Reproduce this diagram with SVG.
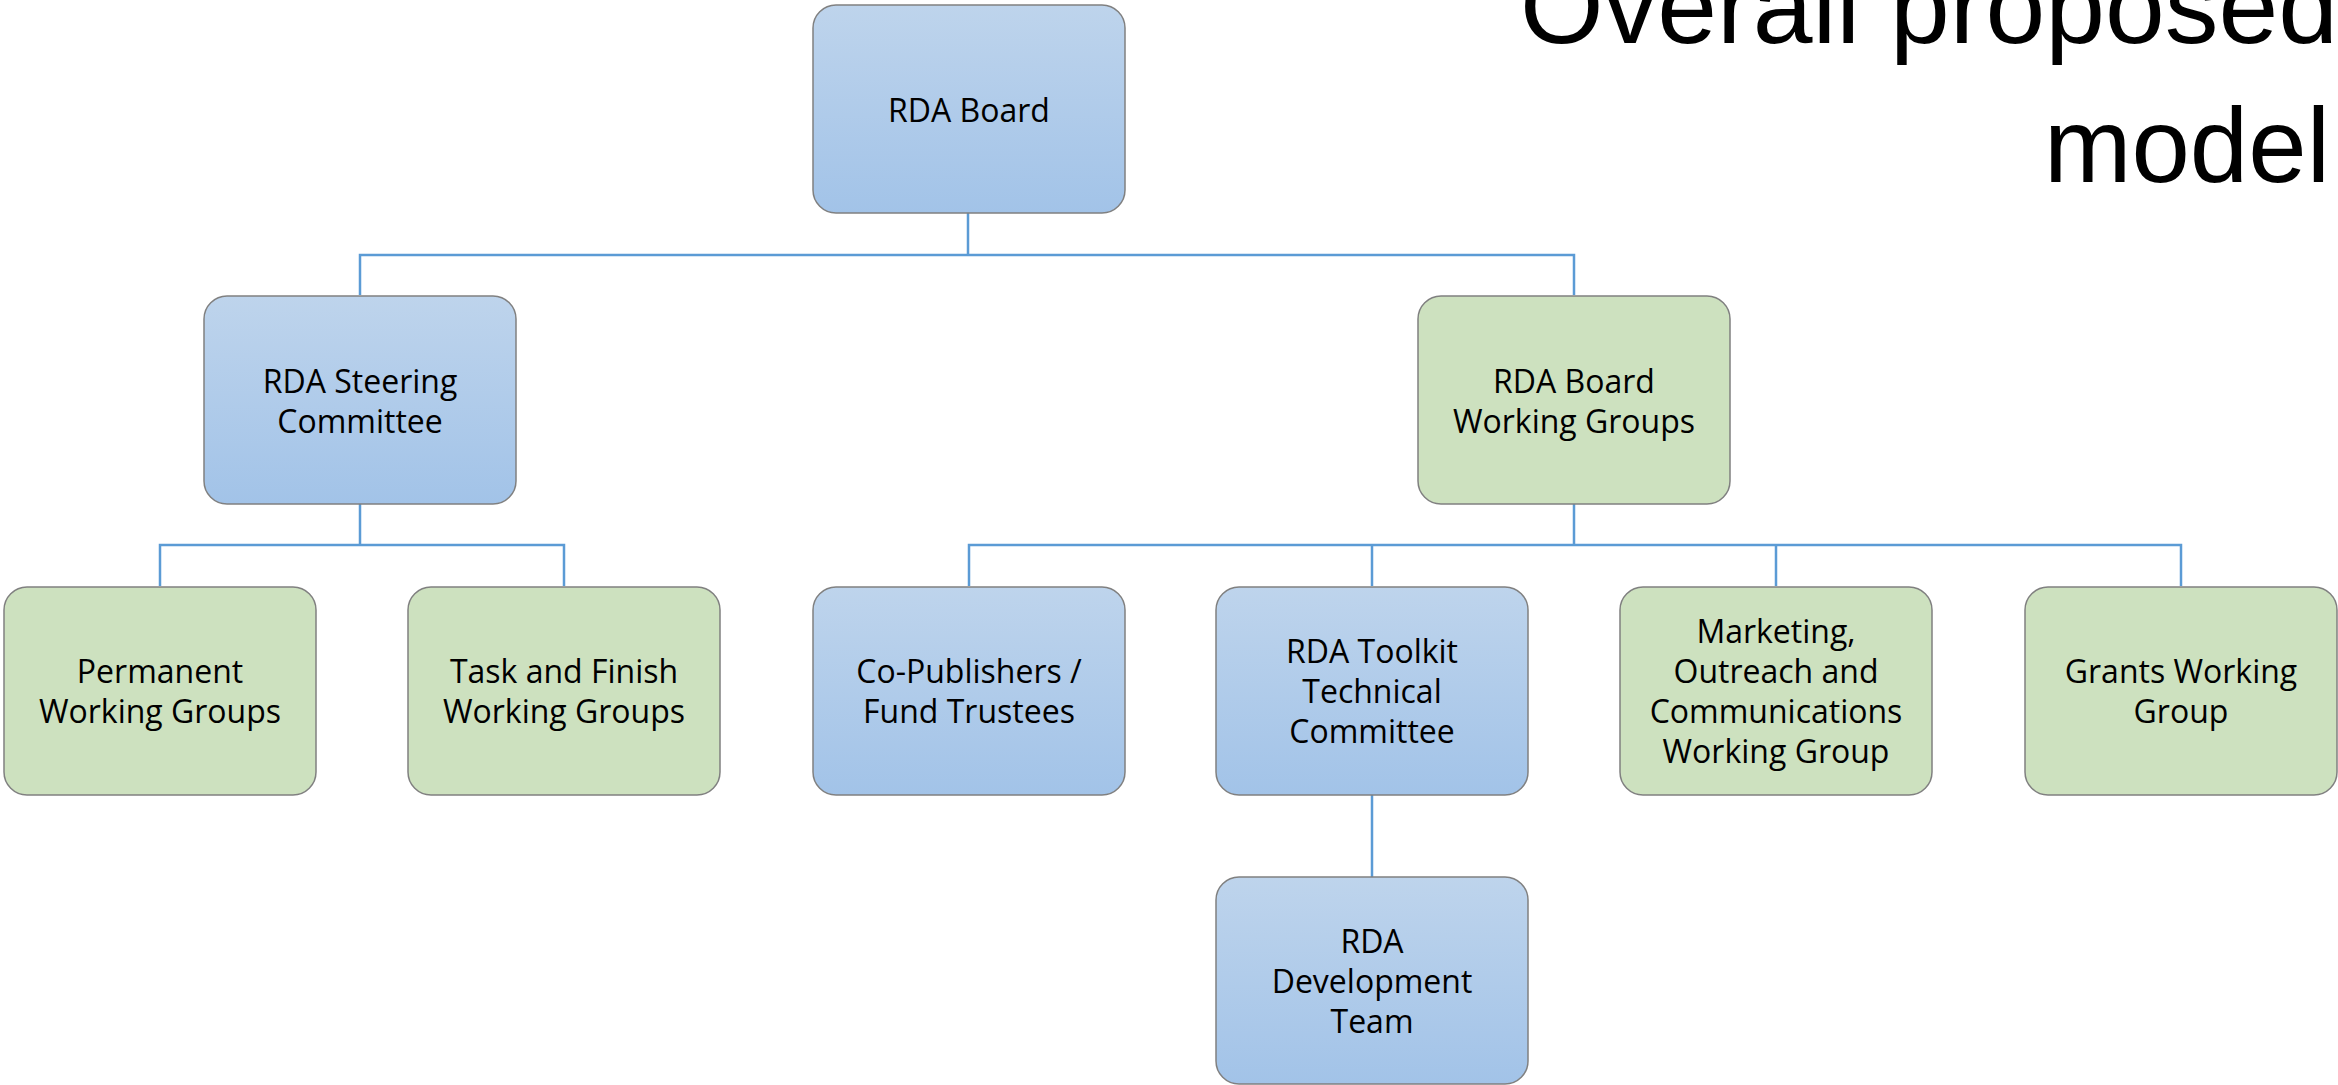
<svg xmlns="http://www.w3.org/2000/svg" width="2338" height="1085" viewBox="0 0 2338 1085">
<defs>
<linearGradient id="blueGrad" x1="0" y1="0" x2="0" y2="1">
<stop offset="0" stop-color="#BED4EC"/>
<stop offset="1" stop-color="#A2C3E8"/>
</linearGradient>
</defs>
<style>
.box{stroke:#808080;stroke-width:1.5}
.blue{fill:url(#blueGrad)}
.green{fill:#CDE1BF}
.lbl{font-family:"Open Sans","Noto Sans","Liberation Sans",sans-serif;font-size:32px;fill:#000;text-anchor:middle}
.title{font-family:"Liberation Sans","Open Sans",sans-serif;font-size:106px;fill:#000}
.conn{fill:none;stroke:#5B9BD5;stroke-width:2.5}
</style>
<rect width="2338" height="1085" fill="#FFFFFF"/>
<g id="title">
<text class="title" x="1520" y="43" textLength="818" lengthAdjust="spacingAndGlyphs">Overall proposed</text>
<text class="title" x="2044" y="182" textLength="286" lengthAdjust="spacingAndGlyphs">model</text>
</g>
<g id="connectors">
<path class="conn" d="M968,213 V255 M360,295 V255 H1574 V295"/>
<path class="conn" d="M360,504 V545 M160,586 V545 H564 V586"/>
<path class="conn" d="M1574,504 V545 M969,586 V545 H2181 V586 M1372,545 V586 M1776,545 V586"/>
<path class="conn" d="M1372,794 V877"/>
</g>
<g id="rda-board">
<rect class="box blue" x="813" y="5" width="312" height="208" rx="23"/>
<text class="lbl" x="969" y="122">RDA Board</text>
</g>
<g id="steering-committee">
<rect class="box blue" x="204" y="296" width="312" height="208" rx="23"/>
<text class="lbl" x="360" y="393">RDA Steering</text>
<text class="lbl" x="360" y="433">Committee</text>
</g>
<g id="board-working-groups">
<rect class="box green" x="1418" y="296" width="312" height="208" rx="23"/>
<text class="lbl" x="1574" y="393">RDA Board</text>
<text class="lbl" x="1574" y="433">Working Groups</text>
</g>
<g id="permanent-wg">
<rect class="box green" x="4" y="587" width="312" height="208" rx="23"/>
<text class="lbl" x="160" y="683">Permanent</text>
<text class="lbl" x="160" y="723">Working Groups</text>
</g>
<g id="task-finish-wg">
<rect class="box green" x="408" y="587" width="312" height="208" rx="23"/>
<text class="lbl" x="564" y="683">Task and Finish</text>
<text class="lbl" x="564" y="723">Working Groups</text>
</g>
<g id="co-publishers">
<rect class="box blue" x="813" y="587" width="312" height="208" rx="23"/>
<text class="lbl" x="969" y="683">Co-Publishers /</text>
<text class="lbl" x="969" y="723">Fund Trustees</text>
</g>
<g id="toolkit-technical-committee">
<rect class="box blue" x="1216" y="587" width="312" height="208" rx="23"/>
<text class="lbl" x="1372" y="663">RDA Toolkit</text>
<text class="lbl" x="1372" y="703">Technical</text>
<text class="lbl" x="1372" y="743">Committee</text>
</g>
<g id="marketing-wg">
<rect class="box green" x="1620" y="587" width="312" height="208" rx="23"/>
<text class="lbl" x="1776" y="643">Marketing,</text>
<text class="lbl" x="1776" y="683">Outreach and</text>
<text class="lbl" x="1776" y="723">Communications</text>
<text class="lbl" x="1776" y="763">Working Group</text>
</g>
<g id="grants-wg">
<rect class="box green" x="2025" y="587" width="312" height="208" rx="23"/>
<text class="lbl" x="2181" y="683">Grants Working</text>
<text class="lbl" x="2181" y="723">Group</text>
</g>
<g id="development-team">
<rect class="box blue" x="1216" y="877" width="312" height="207" rx="23"/>
<text class="lbl" x="1372" y="953">RDA</text>
<text class="lbl" x="1372" y="993">Development</text>
<text class="lbl" x="1372" y="1033">Team</text>
</g>
</svg>
